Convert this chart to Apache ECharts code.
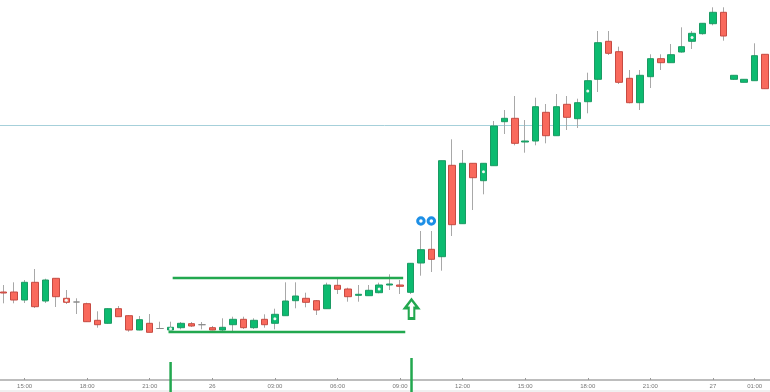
<!DOCTYPE html>
<html>
<head>
<meta charset="utf-8">
<style>html,body{margin:0;padding:0;background:#fff;overflow:hidden}#c{width:770px;height:392px}</style>
<script src="https://cdn.jsdelivr.net/npm/echarts@6/dist/echarts.min.js"></script>
</head>
<body>
<div id="c"></div>
<script>
const categories = [
'25 14:00','25 14:30','25 15:00','25 15:30','25 16:00','25 16:30','25 17:00','25 17:30','25 18:00','25 18:30',
'25 19:00','25 19:30','25 20:00','25 20:30','25 21:00','25 21:30','25 22:00','25 22:30','25 23:00','25 23:30',
'26 00:00','26 00:30','26 01:00','26 01:30','26 02:00','26 02:30','26 03:00','26 03:30','26 04:00','26 04:30',
'26 05:00','26 05:30','26 06:00','26 06:30','26 07:00','26 07:30','26 08:00','26 08:30','26 09:00','26 09:30',
'26 10:00','26 10:30','26 11:00','26 11:30','26 12:00','26 12:30','26 13:00','26 13:30','26 14:00','26 14:30',
'26 15:00','26 15:30','26 16:00','26 16:30','26 17:00','26 17:30','26 18:00','26 18:30','26 19:00','26 19:30',
'26 20:00','26 20:30','26 21:00','26 21:30','26 22:00','26 22:30','26 23:00','26 23:30','27 00:00','27 00:30',
'27 00:40','27 00:50','27 01:00','27 01:30'];
const tickLabels = ['25 15:00','25 18:00','25 21:00','26 00:00','26 03:00','26 06:00','26 09:00','26 12:00','26 15:00','26 18:00','26 21:00','27 00:00','27 01:00'];

const opens = [88,88,80,97.7,79,101.7,81.7,78,76.3,59.7,56.7,71.3,64.3,50,56.7,51.5,50,52.3,56.3,55.3,
52.3,50,55.3,60.7,52.3,60.7,56.7,64.3,79.3,81.7,79.3,71.3,94.7,91,84.7,84.3,87.3,95,95,87.7,
117,130.7,123.3,214.7,156.3,216.7,199.3,214.3,258.3,261.7,238,239,267.7,244.3,275.7,261.3,278.3,300.7,338.7,328.3,
301.7,277.3,303.3,321.3,317.3,328,338.7,346.3,356.3,367.7,300.7,297.7,299.3,325.7];
const closes = [87,80,97.7,73.3,100,83.3,77.7,78,58.3,55.3,71.3,63.3,50,60.3,47.7,51.5,52.7,56.7,54,55.3,
50,52.7,60.7,52.3,59.7,55.3,65.7,79,84,77.7,70,95,90.7,83.3,85.7,89.7,95,96,93.7,116.7,
130.3,120.7,219.3,155.3,216.7,202.3,216.7,254,261.7,236.7,239,273.3,244.3,273.3,262.7,277.3,299.3,337.3,326.7,297.7,
277.3,304.7,321.3,317.3,325.3,333.3,346.7,356.7,367.7,344,304.7,300.7,324.3,291.3];
const lows = [76.7,76.7,77,72,77,73,76,66,58,52.3,56.3,63.3,48.3,49.7,47.7,51,50,50.7,53,50.7,
49.7,48.3,48.3,51,51,52.3,50.7,64.3,71.7,72.7,65,71.3,86,78.3,78.3,84.3,86.7,90,86,86,
104.3,108,109.3,144,156.3,170,185.7,214.3,246,234.7,227.3,234.7,236.7,244.3,250,252,266.7,288,325,296,
276.7,270,292,310,317.3,327.3,331,345.3,354.7,339.3,300,297.7,299.3,291.3];
const highs = [95,97.7,100,111,101.3,102,90,81.7,77.3,68.7,71.7,74,64.7,64,66,58.3,58.3,58,58,58,
54,61.7,63.3,63.3,61.7,65.7,71.3,97.7,97.7,87.3,80,97.3,102.3,92.3,95,95,97.3,105.7,100,117,
149,149,219.3,240.7,230,216.7,216.7,259,270,284,260,282.3,276,286,284,281.3,307.3,349,349,333.3,
310,310,325.7,325.7,336,352.7,349,356.7,372.7,372.7,304.7,300.7,336.7,325.7];

const dotSlots = [6,16,26,36,46,56,66];
const dotValues = [79.7,51.3,61.3,91,208.3,289,342.5];
const signalSlots = [40,41];
const signalValues = [159,159];
const arrowPoint = [39.1,71];
const priceLevel = 255;
const upperRange = [[16.2,102],[38.3,102]];
const lowerRange = [[15.8,48],[38.5,48]];
const startMarker = [[16,18],[16,-12]];
const breakMarker = [[39.1,22],[39.1,-12]];

const GREEN = '#0cbb70', GREEN_EDGE = '#1b9a63', RED = '#f9695c', RED_EDGE = '#c64a42', MARK = '#22a84f';

const wickData = categories.map((_, i) => [opens[i], closes[i], lows[i], highs[i]]);
const bodyData = categories.map((_, i) => [opens[i], closes[i], Math.min(opens[i], closes[i]), Math.max(opens[i], closes[i])]);

const markerLine = (data) => ({
  type: 'line', xAxisIndex: 1, data, symbol: 'none', silent: true, z: 6, clip: false,
  lineStyle: { color: MARK, width: 2.5 }
});

const chart = echarts.init(document.getElementById('c'), null, { renderer: 'canvas' });
chart.setOption({
  animation: false,
  backgroundColor: '#fff',
  grid: { left: -1.5, top: 0, width: 771.8, height: 380, containLabel: false, outerBoundsMode: 'none' },
  graphic: [{ type: 'rect', silent: true, z: 0, shape: { x: 0, y: 390, width: 770, height: 2 }, style: { fill: '#f0f0f0' } }],
  xAxis: [{
    type: 'category', data: categories, boundaryGap: true,
    axisLine: { lineStyle: { color: '#bdbdbd', width: 2 } },
    axisTick: { show: true, inside: true, length: 2, lineStyle: { color: '#999' }, alignWithLabel: true,
      interval: (i, n) => tickLabels.includes(n) },
    axisLabel: { interval: (i, n) => tickLabels.includes(n), margin: 3, fontSize: 6, color: '#777',
      fontFamily: 'Liberation Sans',
      formatter: v => v.endsWith(' 00:00') ? v.slice(0, 2) : v.slice(3) },
    splitLine: { show: false }
  }, {
    type: 'value', min: -0.5, max: 73.5, show: false, splitLine: { show: false }
  }],
  yAxis: { type: 'value', min: 0, max: 380, show: false, splitLine: { show: false } },
  series: [
    {
      type: 'candlestick', name: 'wicks', data: wickData, barWidth: 1, silent: true, z: 2,
      itemStyle: { color: '#a8a8a8', color0: '#a8a8a8', borderColor: '#a8a8a8', borderColor0: '#a8a8a8', borderColorDoji: '#a8a8a8', borderWidth: 1 },
      markLine: {
        silent: true, symbol: 'none', label: { show: false }, z: 1,
        lineStyle: { color: '#a6d0da', width: 1, type: 'solid' },
        data: [{ yAxis: priceLevel }]
      }
    },
    {
      type: 'candlestick', name: 'bodies', data: bodyData, barWidth: 7, silent: true, z: 3,
      itemStyle: { color: GREEN, color0: RED, borderColor: GREEN_EDGE, borderColor0: RED_EDGE, borderColorDoji: '#8a8a8a', borderWidth: 1 }
    },
    {
      type: 'scatter', xAxisIndex: 1, data: dotSlots.map((s, i) => [s, dotValues[i]]),
      symbol: 'circle', symbolSize: 3, itemStyle: { color: '#f2f7f4', opacity: 1 }, silent: true, z: 4
    },
    {
      type: 'scatter', xAxisIndex: 1, data: signalSlots.map((s, i) => [s, signalValues[i]]),
      symbol: 'circle', symbolSize: 6.5, silent: true, z: 5,
      itemStyle: { color: '#fff', borderColor: '#1d8fe6', borderWidth: 3, opacity: 1 }
    },
    markerLine(upperRange), markerLine(lowerRange), markerLine(startMarker), markerLine(breakMarker),
    {
      type: 'scatter', xAxisIndex: 1, data: [arrowPoint], silent: true, z: 6,
      symbol: 'path://M7 0 L14 9 L10 9 L10 20 L4 20 L4 9 L0 9 Z', symbolSize: [13, 19], symbolKeepAspect: false,
      itemStyle: { color: '#fff', borderColor: MARK, borderWidth: 2.5, opacity: 1 }
    }
  ]
});
</script>
</body>
</html>
